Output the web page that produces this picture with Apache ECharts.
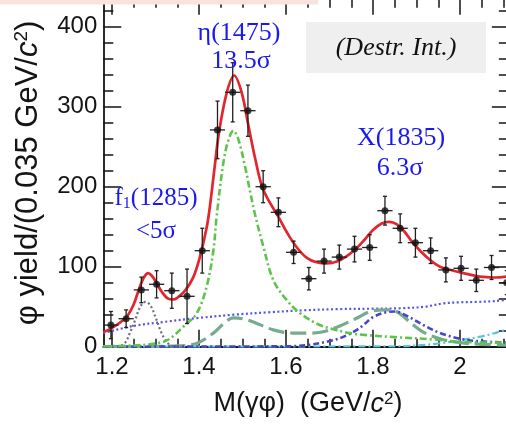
<!DOCTYPE html>
<html>
<head>
<meta charset="utf-8">
<script src="https://cdn.jsdelivr.net/npm/echarts@6/dist/echarts.min.js"></script>
<style>
  html, body { margin: 0; padding: 0; background: #ffffff; }
  #chart { width: 506px; height: 426px; }
</style>
</head>
<body>
<div id="chart"></div>
<script>
// ---- measured spectrum: M(γφ) bin centres (GeV/c²), 35 MeV bins ----
const binMass = [1.1975, 1.2325, 1.2675, 1.3025, 1.3375, 1.3725, 1.4075, 1.4425, 1.4775,
  1.5125, 1.5475, 1.5825, 1.6175, 1.6525, 1.6875, 1.7225, 1.7575, 1.7925, 1.8275,
  1.8625, 1.8975, 1.9325, 1.9675, 2.0025, 2.0375, 2.0725, 2.1075];
const phiYield = [27, 35, 71, 78, 70, 63, 120, 271, 318, 295, 200, 168, 118, 85, 107,
  112, 122, 124, 170, 148, 130, 120, 96, 98, 83, 99, 80];
const yieldErr = [17, 11, 16, 17, 22, 34, 28, 36, 37, 32, 20, 18, 14, 14, 15,
  15, 16, 16, 18, 18, 18, 16, 15, 15, 14, 15, 15];
const binHalfWidth = 0.0175;

// ---- fit: total ----
const totalMass = [1.18, 1.198, 1.218, 1.236, 1.25, 1.264, 1.275, 1.283, 1.291, 1.30, 1.314,
  1.329, 1.34, 1.35, 1.368, 1.387, 1.402, 1.418, 1.425, 1.435, 1.446, 1.464, 1.481, 1.498,
  1.513, 1.530, 1.545, 1.563, 1.582, 1.602, 1.625, 1.648, 1.67, 1.694, 1.717, 1.739, 1.762,
  1.781, 1.80, 1.82, 1.837, 1.855, 1.872, 1.89, 1.91, 1.93, 1.954, 1.985, 2.015, 2.046, 2.077, 2.11];
const totalYield = [18, 23, 30, 39, 53, 75, 88, 92, 89, 82, 69,
  60, 59, 61, 70, 87, 112, 150, 175, 220, 268, 318, 339, 318,
  278, 233, 200, 180, 163, 143, 124, 111, 105.5, 104, 106.5, 113, 123,
  134, 146, 154, 156, 153, 144, 131, 119, 109, 100, 95, 91, 87.5, 86.5, 88];

// ---- fit: η(1475) component ----
const etaMass = [1.18, 1.25, 1.30, 1.33, 1.364, 1.395, 1.4175, 1.433, 1.44, 1.456, 1.4675,
  1.479, 1.49, 1.506, 1.517, 1.529, 1.548, 1.571, 1.602, 1.632, 1.67, 1.70, 1.747, 1.785,
  1.85, 1.94, 2.0, 2.11];
const etaYield = [0.5, 1.5, 4, 9, 25, 42, 75, 120, 160, 230, 258,
  270, 260, 225, 195, 165, 125, 83, 58, 42, 29, 23, 17, 14.5,
  12, 9, 6, 5];

// ---- fit: f1(1285) component ----
const f1Mass = [1.18, 1.215, 1.23, 1.241, 1.253, 1.265, 1.277, 1.289, 1.302, 1.314, 1.327, 1.34, 1.36];
const f1Yield = [0, 0.5, 5, 17, 33, 50, 56, 51, 34, 17, 5, 0.5, 0];

// ---- fit: X(1835) component ----
const x1835Mass = [1.18, 1.60, 1.65, 1.70, 1.73, 1.76, 1.78, 1.80, 1.83, 1.85, 1.88, 1.90,
  1.93, 1.96, 2.0, 2.04, 2.11];
const x1835Yield = [0, 0.5, 2, 7, 12, 20, 28, 37, 43, 44, 38, 32,
  23, 16, 10, 7, 5];

// ---- fit: interference term ----
const interfMass = [1.18, 1.30, 1.35, 1.394, 1.433, 1.455, 1.479, 1.50, 1.525, 1.571, 1.617,
  1.65, 1.68, 1.724, 1.76, 1.80, 1.83, 1.854, 1.893, 1.92, 1.954, 2.0, 2.05, 2.11];
const interfYield = [0, 0.5, 1, 4, 17, 28, 36, 35, 31, 21, 17,
  17, 18, 26, 35, 45, 46, 44, 27, 17, 10, 5, 3, 2];

// ---- fit: non-resonant background ----
const bkgMass = [1.18, 1.25, 1.32, 1.40, 1.48, 1.56, 1.64, 1.72, 1.80, 1.86, 1.92, 1.96,
  2.0, 2.04, 2.08, 2.11];
const bkgYield = [17, 26, 31, 36, 40, 43, 45.5, 47, 47.5, 48, 50, 54,
  55.5, 56, 57, 59];

// ---- fit: high-mass background ----
const hiBkgMass = [1.18, 1.85, 1.90, 1.95, 2.0, 2.05, 2.08, 2.11];
const hiBkgYield = [0, 0.5, 1.5, 4, 8, 13, 17, 22];

// ---- axis ticks ----
const xMajor = [1.2, 1.4, 1.6, 1.8, 2.0];
const xMinor = [1.25, 1.3, 1.35, 1.45, 1.5, 1.55, 1.65, 1.7, 1.75, 1.85, 1.9, 1.95, 2.05, 2.1];
const yMajor = [0, 100, 200, 300, 400];
const yMinor = [20, 40, 60, 80, 120, 140, 160, 180, 220, 240, 260, 280, 320, 340, 360, 380, 420];

const zip = (a, b) => a.map((v, i) => [v, b[i]]);

const AXIS_COLOR = '#141414';
const SANS = '"Liberation Sans", Arial, Helvetica, sans-serif';
const SERIF = '"Liberation Serif", "Times New Roman", serif';
const ANNOT_BLUE = '#1a1af0';

function xAxisDef(position, ticks, len, withLabels, withLine) {
  return {
    type: 'value', position, min: 1.18, max: 2.11,
    axisLine: { show: withLine, onZero: false, lineStyle: { color: AXIS_COLOR, width: 1.8 } },
    axisTick: { show: true, inside: true, length: len, customValues: ticks,
      lineStyle: { color: AXIS_COLOR, width: 1.5 } },
    axisLabel: withLabels ? {
      show: true, customValues: ticks, margin: 9,
      fontFamily: SANS, fontSize: 24, color: AXIS_COLOR,
      formatter: v => String(+(+v).toFixed(1))
    } : { show: false },
    splitLine: { show: false }
  };
}
function yAxisDef(position, ticks, len, withLabels, withLine) {
  return {
    type: 'value', position, min: 0, max: 435,
    axisLine: { show: withLine, onZero: false, lineStyle: { color: AXIS_COLOR, width: 1.8 } },
    axisTick: { show: true, inside: true, length: len, customValues: ticks,
      lineStyle: { color: AXIS_COLOR, width: 1.5 } },
    axisLabel: withLabels ? {
      show: true, customValues: ticks, margin: 6,
      fontFamily: SANS, fontSize: 24, color: AXIS_COLOR
    } : { show: false },
    splitLine: { show: false }
  };
}

function curve(name, mass, yld, color, width, dash, z) {
  return {
    name, type: 'line', data: zip(mass, yld), smooth: 0.35, symbol: 'none',
    xAxisIndex: 0, yAxisIndex: 0, z, clip: true,
    lineStyle: { color, width, type: dash, cap: 'butt' }, silent: true
  };
}

const chart = echarts.init(document.getElementById('chart'), null, { renderer: 'canvas' });

chart.setOption({
  animation: false,
  backgroundColor: '#ffffff',
  grid: { left: 103.3, right: -1.85, top: -1.3, bottom: 79.3, containLabel: false, outerBoundsMode: 'none' },
  xAxis: [
    xAxisDef('bottom', xMajor, 17, true, true),
    xAxisDef('bottom', xMinor, 8, false, false),
    xAxisDef('top', xMajor, 16, false, true),
    xAxisDef('top', xMinor, 9, false, false)
  ],
  yAxis: [
    yAxisDef('left', yMajor, 18, true, true),
    yAxisDef('left', yMinor, 10, false, false),
    yAxisDef('right', yMajor, 16, false, true),
    yAxisDef('right', yMinor, 9, false, false)
  ],
  series: [
    curve('background', bkgMass, bkgYield, '#5656e4', 2.2, [2, 2.5], 2),
    curve('high-mass background', hiBkgMass, hiBkgYield, '#55c6dc', 2.2, [7, 3, 2, 3], 2),
    curve('interference', interfMass, interfYield, '#76ab90', 3.2, [16, 6], 2),
    curve('X(1835)', x1835Mass, x1835Yield, '#4646c8', 2.6, [6, 3, 2, 3], 3),
    curve('f1(1285)', f1Mass, f1Yield, '#707070', 2.2, [2, 2.5], 3),
    curve('η(1475)', etaMass, etaYield, '#5dc34b', 2.6, [7, 3, 2, 3], 3),
    curve('total fit', totalMass, totalYield, '#e2262e', 2.7, 'solid', 4),
    {
      name: 'errors', type: 'custom', xAxisIndex: 0, yAxisIndex: 0, z: 5, silent: true,
      data: binMass.map((m, i) => [m, phiYield[i], yieldErr[i]]),
      renderItem(params, api) {
        const m = api.value(0), v = api.value(1), e = api.value(2);
        const top = api.coord([m, v + e]);
        const bot = api.coord([m, v - e]);
        const lft = api.coord([m - binHalfWidth, v]);
        const rgt = api.coord([m + binHalfWidth, v]);
        const st = { stroke: '#202020', lineWidth: 1.3 };
        return {
          type: 'group',
          children: [
            { type: 'line', shape: { x1: top[0], y1: top[1], x2: bot[0], y2: bot[1] }, style: st },
            { type: 'line', shape: { x1: lft[0], y1: lft[1], x2: rgt[0], y2: rgt[1] }, style: st },
            { type: 'line', shape: { x1: top[0] - 2, y1: top[1], x2: top[0] + 2, y2: top[1] }, style: st },
            { type: 'line', shape: { x1: bot[0] - 2, y1: bot[1], x2: bot[0] + 2, y2: bot[1] }, style: st }
          ]
        };
      }
    },
    {
      name: 'data', type: 'scatter', xAxisIndex: 0, yAxisIndex: 0, z: 6, silent: true,
      data: zip(binMass, phiYield), symbol: 'circle', symbolSize: 7,
      itemStyle: { color: '#111111' }
    }
  ],
  graphic: [
    // strip along the top-left edge
    { type: 'rect', z: 100, shape: { x: 0, y: 0, width: 318, height: 4.5 }, style: { fill: '#f9e4dc' } },
    // fit-model tag
    { type: 'rect', z: 50, shape: { x: 306, y: 22, width: 180, height: 51 }, style: { fill: '#efefef' } },
    { type: 'text', z: 51, x: 396, y: 48,
      style: { text: '(Destr. Int.)', font: 'italic 26px ' + SERIF, fill: '#111', align: 'center', verticalAlign: 'middle' } },
    // resonance annotations
    { type: 'text', z: 51, x: 239, y: 33,
      style: { text: 'η(1475)', font: '26px ' + SERIF, fill: ANNOT_BLUE, align: 'center', verticalAlign: 'middle' } },
    { type: 'text', z: 51, x: 241, y: 61,
      style: { text: '13.5σ', font: '26px ' + SERIF, fill: ANNOT_BLUE, align: 'center', verticalAlign: 'middle' } },
    { type: 'text', z: 51, x: 401, y: 138,
      style: { text: 'X(1835)', font: '26px ' + SERIF, fill: ANNOT_BLUE, align: 'center', verticalAlign: 'middle' } },
    { type: 'text', z: 51, x: 400, y: 168,
      style: { text: '6.3σ', font: '26px ' + SERIF, fill: ANNOT_BLUE, align: 'center', verticalAlign: 'middle' } },
    { type: 'text', z: 51, x: 156, y: 198,
      style: {
        text: 'f{sub|1}(1285)', font: '25px ' + SERIF, fill: ANNOT_BLUE, align: 'center', verticalAlign: 'middle',
        rich: { sub: { font: '16px ' + SERIF, fill: ANNOT_BLUE, verticalAlign: 'bottom', padding: [12, 0, 0, 0] } }
      } },
    { type: 'text', z: 51, x: 156, y: 231,
      style: { text: '<5σ', font: '25px ' + SERIF, fill: ANNOT_BLUE, align: 'center', verticalAlign: 'middle' } },
    // axis titles
    { type: 'text', z: 51, x: 308, y: 404,
      style: {
        text: 'M(γφ)  (GeV/{i|c}{sup|2})', font: '27px ' + SANS, fill: AXIS_COLOR, align: 'center', verticalAlign: 'middle',
        rich: {
          i: { font: 'italic 27px ' + SANS, fill: AXIS_COLOR },
          sup: { font: '17px ' + SANS, fill: AXIS_COLOR, verticalAlign: 'top', padding: [0, 0, 10, 0] }
        }
      } },
    { type: 'text', z: 51, x: 28, y: 173, rotation: Math.PI / 2,
      style: {
        text: 'φ yield/(0.035 GeV/{i|c}{sup|2})', font: '31px ' + SANS, fill: AXIS_COLOR, align: 'center', verticalAlign: 'middle',
        rich: {
          i: { font: 'italic 31px ' + SANS, fill: AXIS_COLOR },
          sup: { font: '19px ' + SANS, fill: AXIS_COLOR, verticalAlign: 'top', padding: [0, 0, 12, 0] }
        }
      } }
  ]
});
</script>
</body>
</html>
